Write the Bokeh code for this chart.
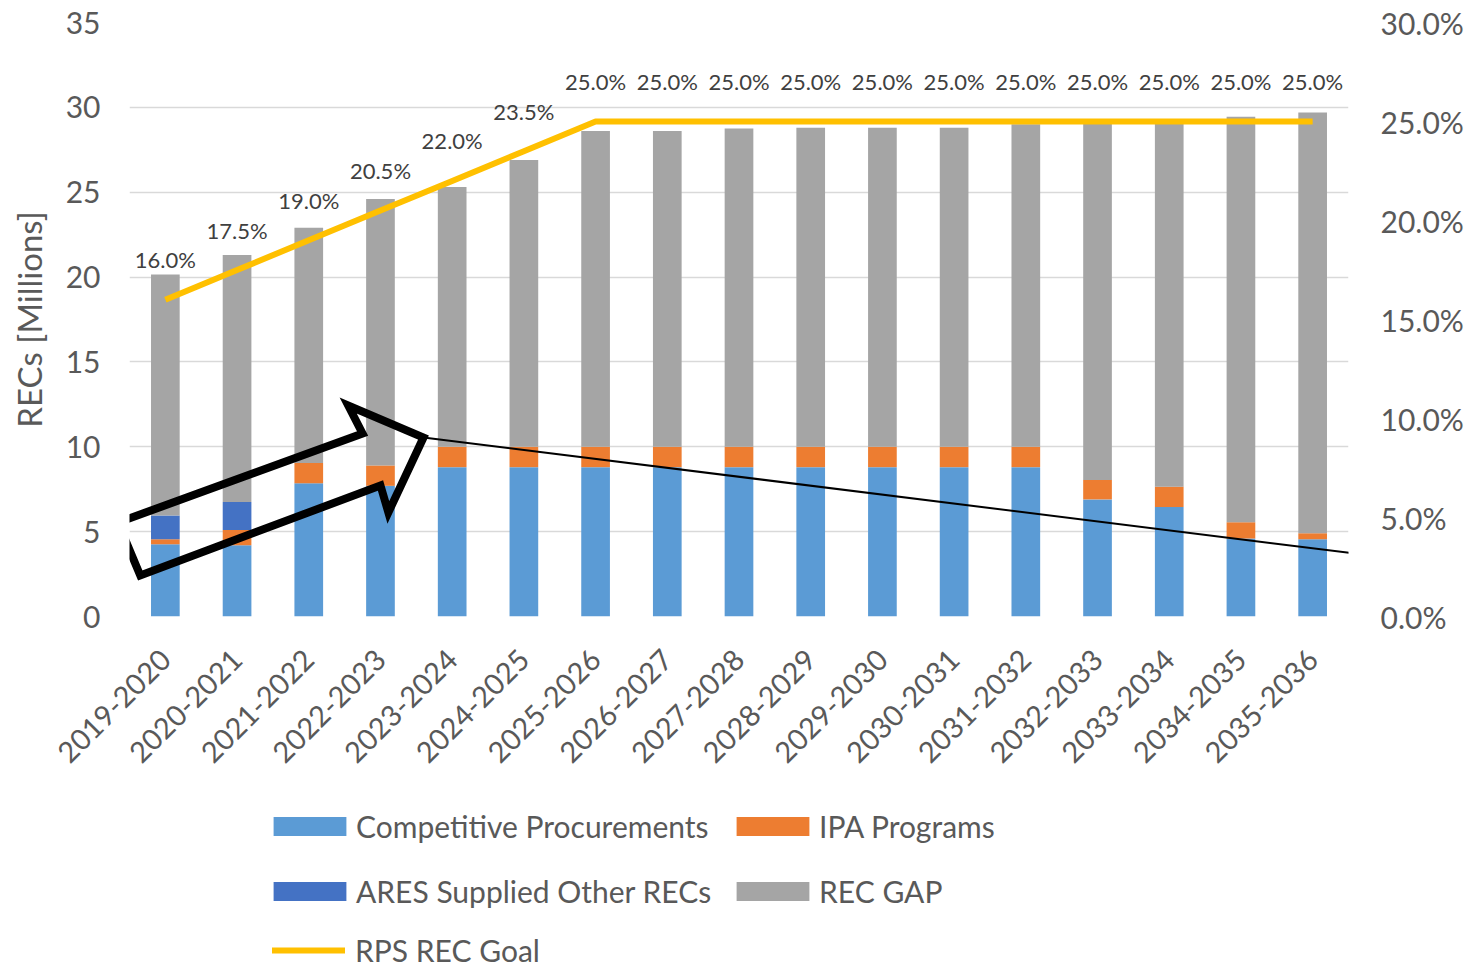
from math import pi
from bokeh.plotting import figure
from bokeh.layouts import column
from bokeh.models import (ColumnDataSource, FactorRange, Range1d, LinearAxis, FixedTicker,
                          NumeralTickFormatter, Legend, LegendItem, LabelSet, PolyAnnotation, Arrow)
from bokeh.embed import file_html
from bokeh.resources import INLINE
from bokeh.core.properties import value

# ---------------- data ----------------
categories = ["2019-2020", "2020-2021", "2021-2022", "2022-2023", "2023-2024", "2024-2025",
              "2025-2026", "2026-2027", "2027-2028", "2028-2029", "2029-2030", "2030-2031",
              "2031-2032", "2032-2033", "2033-2034", "2034-2035", "2035-2036"]
competitive = [4.25, 4.2, 7.85, 7.7, 8.8, 8.8, 8.8, 8.8, 8.8, 8.8, 8.8, 8.8, 8.8, 6.9, 6.45, 4.6, 4.55]
ipa = [0.3, 0.9, 1.2, 1.2, 1.2, 1.2, 1.2, 1.2, 1.2, 1.2, 1.2, 1.2, 1.2, 1.15, 1.2, 0.95, 0.35]
ares = [1.4, 1.65, 0, 0, 0, 0, 0, 0, 0, 0, 0, 0, 0, 0, 0, 0, 0]
gap = [14.2, 14.55, 13.85, 15.7, 15.3, 16.9, 18.6, 18.6, 18.75, 18.8, 18.8, 18.8, 19.0, 21.0, 21.45, 23.9, 24.8]
goal = [0.16, 0.175, 0.19, 0.205, 0.22, 0.235, 0.25, 0.25, 0.25, 0.25, 0.25, 0.25, 0.25, 0.25, 0.25, 0.25, 0.25]
series_names = ["Competitive Procurements", "IPA Programs", "ARES Supplied Other RECs", "REC GAP"]
line_name = "RPS REC Goal"
left_ticks = [0, 5, 10, 15, 20, 25, 30, 35]
right_ticks = [0, 0.05, 0.10, 0.15, 0.20, 0.25, 0.30]

# hand-drawn arrow annotation (synthetic categorical x, left-axis y)
arrow_x = [-0.16, 3.25, 3.05, 4.10, 3.61, 3.50, 0.15]
arrow_y = [5.54, 10.78, 12.43, 10.55, 6.13, 7.72, 2.42]
pointer_x = [4.10, 18.65]
pointer_y = [10.55, 2.89]

colors = ["#5B9BD5", "#ED7D31", "#4472C4", "#A5A5A5"]
LINE_COLOR = "#FFC000"
FONT = "Lato"
TXT = "#595959"

src = ColumnDataSource(dict(cat=categories, cp=competitive, ipa=ipa, ares=ares, gap=gap, goal=goal,
                            goal_text=["%.1f%%" % (g * 100) for g in goal]))

p = figure(x_range=FactorRange(*categories), y_range=Range1d(0, 35),
           width=1466, height=790, output_backend="svg", toolbar_location=None,
           min_border_left=129, min_border_right=118, min_border_top=22, min_border_bottom=174)
p.extra_y_ranges = {"pct": Range1d(0, 0.30)}
p.outline_line_color = None

stack = p.vbar_stack(["cp", "ipa", "ares", "gap"], x="cat", width=0.4, color=colors,
                     line_color=None, source=src)
goal_line = p.line(x="cat", y="goal", y_range_name="pct", line_color=LINE_COLOR, line_width=6,
                   source=src)

labels = LabelSet(x="cat", y="goal", text="goal_text", y_range_name="pct", source=src,
                  y_offset=40, text_align="center", text_baseline="middle",
                  text_font=value(FONT), text_font_size="22px", text_color="#404040")
p.add_layout(labels)

# axes
p.yaxis.ticker = FixedTicker(ticks=left_ticks)
p.yaxis.axis_label = "RECs [Millions]"
p.xaxis.major_label_orientation = pi / 4
right = LinearAxis(y_range_name="pct", ticker=FixedTicker(ticks=right_ticks),
                   formatter=NumeralTickFormatter(format="0.0%"))
p.add_layout(right, "right")
for ax in [p.xaxis[0], p.yaxis[0], right]:
    ax.axis_line_color = None
    ax.major_tick_line_color = None
    ax.minor_tick_line_color = None
    ax.major_tick_out = 0
    ax.major_tick_in = 0
    ax.major_label_text_font = FONT
    ax.major_label_text_color = TXT
    ax.major_label_text_font_size = "30px"
p.xaxis.major_label_text_font_size = "29px"
p.xaxis.major_label_standoff = 38
p.yaxis[0].major_label_standoff = 29
right.major_label_standoff = 32
p.yaxis[0].axis_label_text_font = FONT
p.yaxis[0].axis_label_text_font_size = "33px"
p.yaxis[0].axis_label_text_font_style = "normal"
p.yaxis[0].axis_label_text_color = TXT
p.yaxis[0].axis_label_standoff = 14

p.xgrid.grid_line_color = None
p.ygrid.grid_line_color = "#D9D9D9"
p.ygrid.grid_line_width = 1.5

# annotations
p.add_layout(PolyAnnotation(xs=arrow_x, ys=arrow_y, fill_alpha=0, line_alpha=1,
                            line_color="black", line_width=8, line_join="miter"))
p.add_layout(Arrow(x_start=pointer_x[0], y_start=pointer_y[0], x_end=pointer_x[1], y_end=pointer_y[1],
                   end=None, line_color="black", line_width=2))

# ---------------- legend panel ----------------
lf = figure(width=1466, height=179, x_range=Range1d(0, 1), y_range=Range1d(0, 1),
            output_backend="svg", toolbar_location=None,
            min_border_left=0, min_border_right=0, min_border_top=0, min_border_bottom=0)
lf.axis.visible = False
lf.grid.visible = False
lf.outline_line_color = None
proxy = ColumnDataSource(dict(x=[float("nan")], top=[float("nan")]))
swatches = [lf.vbar(x="x", top="top", width=0.1, color=c, line_color=None, source=proxy) for c in colors]
goal_swatch = lf.line(x="x", y="top", line_color=LINE_COLOR, line_width=6, line_cap="round", source=proxy)

common = dict(orientation="vertical", padding=0, margin=0, border_line_color=None,
              background_fill_alpha=0, label_text_font=FONT, label_text_font_size="30px",
              label_text_color=TXT, label_height=30, spacing=29)
legend_a = Legend(items=[LegendItem(label=series_names[0], renderers=[swatches[0]]),
                         LegendItem(label=series_names[2], renderers=[swatches[2]])],
                  location=(135, 60), glyph_width=91, glyph_height=24, label_standoff=1, **common)
legend_b = Legend(items=[LegendItem(label=series_names[1], renderers=[swatches[1]]),
                         LegendItem(label=series_names[3], renderers=[swatches[3]])],
                  location=(598, 60), glyph_width=91, glyph_height=24, label_standoff=1, **common)
legend_c = Legend(items=[LegendItem(label=line_name, renderers=[goal_swatch])],
                  location=(143, 1), glyph_width=73, glyph_height=24, label_standoff=10, **common)
for lg in (legend_a, legend_b, legend_c):
    lf.add_layout(lg, "center")

open("out.html", "w").write(file_html(column(p, lf, spacing=0), INLINE))
